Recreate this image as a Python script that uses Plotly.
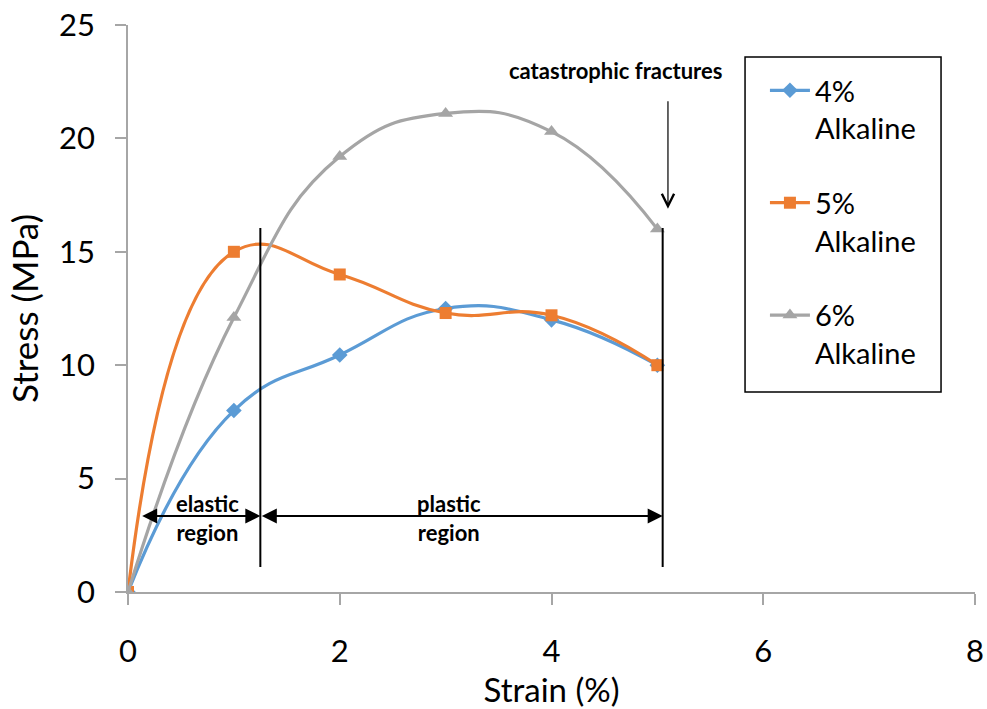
import plotly.graph_objects as go

strain = [0, 1, 2, 3, 4, 5]
stress_4 = [0, 8.0, 10.45, 12.5, 12.0, 10.0]
stress_5 = [0, 15.0, 14.0, 12.3, 12.2, 10.0]
stress_6 = [0, 12.1, 19.2, 21.1, 20.3, 16.0]
series_names = ["4%<br>Alkaline", "5%<br>Alkaline", "6%<br>Alkaline"]
colors = ["#5B9BD5", "#ED7D31", "#A5A5A5"]
symbols = ["diamond", "square", "triangle-up"]

# annotation positions (data units)
elastic_end = 1.25
plastic_end = 5.05
region_y = 3.35
line_top = 16.05
line_bottom = 1.1

FONT = "Lato"

fig = go.Figure()
for name, ys, c, s, sz in zip(series_names, [stress_4, stress_5, stress_6], colors, symbols, [12, 12, 13]):
    fig.add_trace(go.Scatter(
        x=strain, y=ys, name=name, mode="lines+markers",
        line=dict(color=c, width=3.2, shape="spline", smoothing=1.3),
        marker=dict(symbol=s, size=sz, color=c),
        legendgroup=name,
    ))

# vertical boundary lines
for xv in [elastic_end, plastic_end]:
    fig.add_shape(type="line", x0=xv, x1=xv, y0=line_bottom, y1=line_top,
                  xref="x", yref="y", line=dict(color="black", width=2))

# legend frame
fig.add_shape(type="rect", xref="paper", yref="paper", x0=0.7285, x1=0.9599, y0=0.3527, y1=0.9436,
              line=dict(color="black", width=1.5), fillcolor="rgba(0,0,0,0)")

# double-headed arrows
for x0, x1 in [(0.12, elastic_end), (elastic_end, plastic_end)]:
    fig.add_annotation(x=x1, y=region_y, ax=x0, ay=region_y, xref="x", yref="y",
                       axref="x", ayref="y", text="", showarrow=True,
                       arrowhead=2, startarrowhead=2, arrowside="end+start",
                       arrowsize=1.5, startarrowsize=1.5, arrowwidth=2, arrowcolor="black")

fig.add_annotation(x=0.75, y=region_y - 0.1, xref="x", yref="y", text="<b>elastic<br>region</b>",
                   showarrow=False, font=dict(family=FONT, size=22, color="black"))
fig.add_annotation(x=3.03, y=region_y - 0.1, xref="x", yref="y", text="<b>plastic<br>region</b>",
                   showarrow=False, font=dict(family=FONT, size=22, color="black"))

# catastrophic fractures arrow
fig.add_annotation(x=5.1, y=16.9, ax=5.1, ay=21.7, xref="x", yref="y", axref="x", ayref="y",
                   text="", showarrow=True, arrowhead=5, arrowsize=2, arrowwidth=1.2, arrowcolor="black")
fig.add_annotation(x=4.6, y=23.0, xref="x", yref="y", text="<b>catastrophic fractures</b>",
                   showarrow=False, font=dict(family=FONT, size=22, color="black"))

axis_common = dict(showgrid=False, zeroline=False, showline=True, linecolor="#A6A6A6", linewidth=1.5,
                   ticks="outside", ticklen=11, tickcolor="#A6A6A6", tickwidth=1.5, automargin=False,
                   ticklabeloverflow="allow",
                   tickfont=dict(family=FONT, size=31, color="black"))

fig.update_layout(
    width=987, height=709,
    margin=dict(l=128, r=12, t=25, b=117),
    paper_bgcolor="white", plot_bgcolor="white",
    font=dict(family=FONT, color="black"),
    xaxis=dict(range=[0, 8], dtick=2, tick0=0, ticklabelstandoff=20,
               title=dict(text="Strain (%)", font=dict(family=FONT, size=33), standoff=25),
               **axis_common),
    yaxis=dict(range=[0, 25], dtick=5, tick0=0, ticklabelstandoff=14,
               title=dict(text="Stress (MPa)", font=dict(family=FONT, size=35), standoff=10),
               **axis_common),
    legend=dict(x=0.752, y=0.9295, xanchor="left", yanchor="top",
                borderwidth=0, bgcolor="rgba(0,0,0,0)",
                font=dict(family=FONT, size=29, color="black"),
                valign="top", tracegroupgap=34, itemwidth=40),
    showlegend=True,
)

fig.write_html("out.html", config={"displayModeBar": False},
               post_script="document.body.style.margin='0';document.body.style.overflow='hidden';")
